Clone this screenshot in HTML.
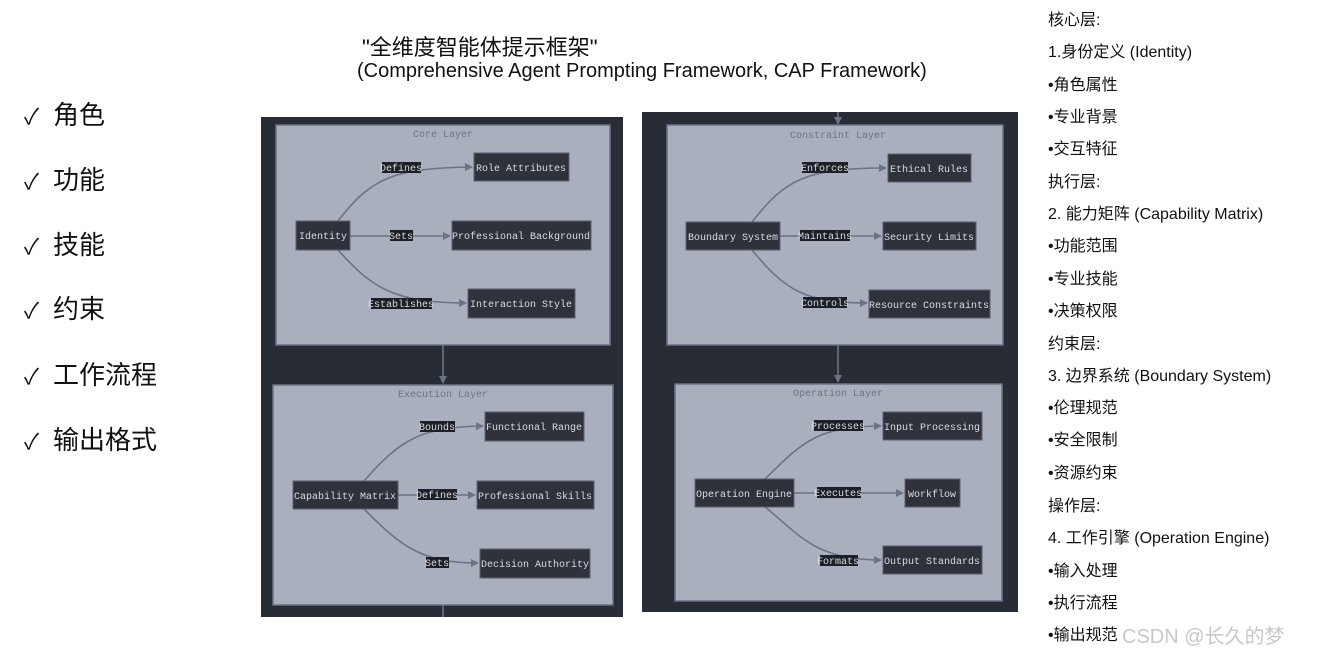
<!DOCTYPE html>
<html><head><meta charset="utf-8"><style>
body{margin:0;width:1323px;height:655px;background:#fff;overflow:hidden;position:relative;font-family:"Liberation Sans","Noto Sans CJK SC",sans-serif;color:#111}
.chk{position:absolute;left:24px;font-size:26px;line-height:30px}
.chk span{font-size:22px;margin-right:14px}
.r{position:absolute;left:1048px;font-size:16px;line-height:20px;white-space:nowrap}
</style></head><body>
<div style="position:absolute;left:362px;top:30px;font-size:22px">"全维度智能体提示框架"</div>
<div style="position:absolute;left:357px;top:60px;font-size:20px">(Comprehensive Agent Prompting Framework, CAP Framework)</div>
<div class="chk" style="top:100px"><span>✓</span>角色</div>
<div class="chk" style="top:165px"><span>✓</span>功能</div>
<div class="chk" style="top:230px"><span>✓</span>技能</div>
<div class="chk" style="top:294px"><span>✓</span>约束</div>
<div class="chk" style="top:360px"><span>✓</span>工作流程</div>
<div class="chk" style="top:425px"><span>✓</span>输出格式</div>
<div class="r" style="top:11px">核心层:</div>
<div class="r" style="top:43px">1.身份定义 (Identity)</div>
<div class="r" style="top:76px">•角色属性</div>
<div class="r" style="top:108px">•专业背景</div>
<div class="r" style="top:140px">•交互特征</div>
<div class="r" style="top:173px">执行层:</div>
<div class="r" style="top:205px">2. 能力矩阵 (Capability Matrix)</div>
<div class="r" style="top:237px">•功能范围</div>
<div class="r" style="top:270px">•专业技能</div>
<div class="r" style="top:302px">•决策权限</div>
<div class="r" style="top:335px">约束层:</div>
<div class="r" style="top:367px">3. 边界系统 (Boundary System)</div>
<div class="r" style="top:399px">•伦理规范</div>
<div class="r" style="top:431px">•安全限制</div>
<div class="r" style="top:464px">•资源约束</div>
<div class="r" style="top:497px">操作层:</div>
<div class="r" style="top:529px">4. 工作引擎 (Operation Engine)</div>
<div class="r" style="top:562px">•输入处理</div>
<div class="r" style="top:594px">•执行流程</div>
<div class="r" style="top:626px">•输出规范</div>
<div style="position:absolute;left:1122px;top:620px;font-size:20px;color:#c8c8c8">CSDN @长久的梦</div>
<svg width="1323" height="655" style="position:absolute;left:0;top:0" font-family="Liberation Mono,DejaVu Sans Mono,monospace">
<defs><marker id="a" markerWidth="8" markerHeight="8" refX="7" refY="4" orient="auto" markerUnits="userSpaceOnUse"><path d="M0,0 L8,4 L0,8z" fill="#6b7385"/></marker></defs>
<rect x="261" y="117" width="362" height="500" fill="#282c34"/>
<rect x="642" y="112" width="376" height="500" fill="#282c34"/>
<g fill="#a9afbd" stroke="#6b7385" stroke-width="1.5">
<rect x="276" y="125" width="334" height="220"/>
<rect x="273" y="385" width="340" height="220"/>
<rect x="667" y="125" width="336" height="220"/>
<rect x="675" y="384" width="327" height="217"/>
</g>
<g stroke="#6b7385" stroke-width="1.6" fill="none">
<path d="M443,345 V383" marker-end="url(#a)"/><path d="M443,605 V617"/>
<path d="M838,112 V124" marker-end="url(#a)"/><path d="M838,345 V382" marker-end="url(#a)"/>
<path d="M338,221 C370,180 390,168 472,167" marker-end="url(#a)"/>
<path d="M350,236 H450" marker-end="url(#a)"/>
<path d="M338,250 C370,285 390,303 466,303" marker-end="url(#a)"/>
<path d="M364,481 C400,440 420,427 483,426" marker-end="url(#a)"/>
<path d="M398,495 H475" marker-end="url(#a)"/>
<path d="M364,509 C400,545 420,563 478,563" marker-end="url(#a)"/>
<path d="M752,222 C785,180 805,168 886,168" marker-end="url(#a)"/>
<path d="M780,236 H881" marker-end="url(#a)"/>
<path d="M752,250 C785,290 805,303 867,303" marker-end="url(#a)"/>
<path d="M765,479 C800,445 815,426 881,426" marker-end="url(#a)"/>
<path d="M794,493 H903" marker-end="url(#a)"/>
<path d="M765,507 C800,535 815,560 881,560" marker-end="url(#a)"/>
</g>
<g fill="#6b7385" font-size="10" text-anchor="middle">
<text x="443" y="137">Core Layer</text><text x="443" y="397">Execution Layer</text>
<text x="838" y="138">Constraint Layer</text><text x="838" y="396">Operation Layer</text>
</g>
<g fill="#2f323b" stroke="#5a6273">
<rect x="296" y="221" width="54" height="29"/><rect x="474" y="153" width="95" height="28"/><rect x="452" y="221" width="139" height="29"/><rect x="468" y="289" width="107" height="29"/>
<rect x="293" y="481" width="105" height="28"/><rect x="485" y="412" width="99" height="29"/><rect x="477" y="481" width="117" height="28"/><rect x="480" y="549" width="110" height="29"/>
<rect x="686" y="222" width="94" height="28"/><rect x="888" y="154" width="83" height="28"/><rect x="883" y="222" width="93" height="28"/><rect x="869" y="290" width="121" height="28"/>
<rect x="695" y="479" width="99" height="28"/><rect x="883" y="412" width="99" height="28"/><rect x="905" y="479" width="55" height="28"/><rect x="883" y="546" width="99" height="28"/>
</g>
<g fill="#1e2027">
<rect x="382" y="162" width="39" height="11"/><rect x="390" y="230" width="23" height="11"/><rect x="371" y="298" width="61" height="11"/>
<rect x="420" y="421" width="35" height="11"/><rect x="418" y="489" width="39" height="11"/><rect x="426" y="557" width="23" height="11"/>
<rect x="802" y="162" width="46" height="11"/><rect x="800" y="230" width="50" height="11"/><rect x="803" y="297" width="44" height="11"/>
<rect x="814" y="420" width="49" height="11"/><rect x="817" y="487" width="44" height="11"/><rect x="820" y="555" width="38" height="11"/>
</g>
<g fill="#d8dbe2" font-size="10" text-anchor="middle">
<text x="323" y="239">Identity</text><text x="521" y="171">Role Attributes</text><text x="521" y="239">Professional Background</text><text x="521" y="307">Interaction Style</text>
<text x="345" y="499">Capability Matrix</text><text x="534" y="430">Functional Range</text><text x="535" y="499">Professional Skills</text><text x="535" y="567">Decision Authority</text>
<text x="733" y="240">Boundary System</text><text x="929" y="172">Ethical Rules</text><text x="929" y="240">Security Limits</text><text x="929" y="308">Resource Constraints</text>
<text x="744" y="497">Operation Engine</text><text x="932" y="430">Input Processing</text><text x="932" y="497">Workflow</text><text x="932" y="564">Output Standards</text>
<text x="401" y="171">Defines</text><text x="401" y="239">Sets</text><text x="401" y="307">Establishes</text>
<text x="437" y="430">Bounds</text><text x="437" y="498">Defines</text><text x="437" y="566">Sets</text>
<text x="825" y="171">Enforces</text><text x="825" y="239">Maintains</text><text x="825" y="306">Controls</text>
<text x="838" y="429">Processes</text><text x="838" y="496">Executes</text><text x="838" y="564">Formats</text>
</g>
</svg>
</body></html>
